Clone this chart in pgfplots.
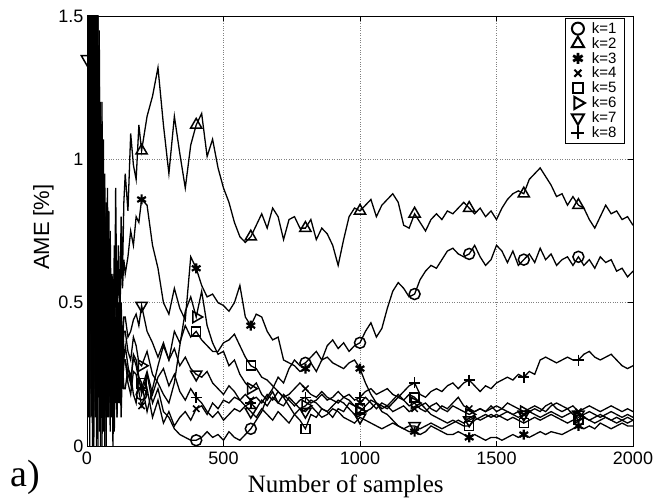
\documentclass[border=0pt]{standalone}
\usepackage{fontspec}
\setmainfont{Liberation Serif}
\setsansfont{Liberation Sans}
\usepackage{pgfplots}
\usepackage{pgfplotstable}
\pgfplotsset{compat=1.18}

\pgfplotstableread{
s k1 k2 k3 k4 k5 k6 k7 k8
0 3.0 2.6 2.0 2.2 1.8 2.9 1.35 2.0
5 0.4 2.8 0.2 2.2 0.6 2.5 0.1 1.9
10 2.2 0.1 1.8 0.4 2.6 0.0 2.3 0.2
15 0.1 2.0 0.7 1.8 0.2 2.1 0.5 2.4
20 1.9 0.5 2.4 0.0 1.6 0.3 1.7 0.1
25 0.6 1.7 0.1 1.6 0.0 1.9 0.2 2.0
30 1.7 0.2 1.5 0.3 1.8 0.1 1.6 0.5
35 0.2 1.6 0.3 1.9 0.7 1.4 0.0 1.7
40 1.6 0.0 1.2 0.2 1.3 0.4 1.5 0.3
45 0.05 1.3 0.6 1.25 0.2 1.1 0.4 1.45
50 1.1 0.3 1.2 0.1 1.15 0.2 0.9 0.0
55 0.3 1.2 0.1 1.0 0.0 1.05 0.2 0.85
60 1.07 0.1 0.8 0.35 0.7 0.05 0.9 0.3
65 0.1 0.95 0.5 0.8 0.3 0.85 0.0 0.75
70 0.8 0.3 0.6 0.0 0.85 0.35 0.7 0.1
75 0.2 0.9 0.2 0.6 0.1 0.6 0.3 0.65
80 0.6 0.15 0.82 0.3 0.45 0.1 0.7 0.2
85 0.05 0.75 0.3 0.55 0.2 0.5 0.15 0.6
90 0.55 0.3 0.5 0.1 0.6 0.25 0.4 0.15
95 0.3 0.6 0.1 0.45 0.0 0.55 0.5 0.5
100 0.7 0.25 0.45 0.05 0.35 0.3 0.25 0.2
105 0.15 0.9 0.6 0.4 0.25 0.45 0.35 0.45
110 0.45 0.4 0.3 0.1 0.5 0.15 0.6 0.1
115 0.2 0.7 0.5 0.35 0.15 0.5 0.3 0.35
120 0.5 0.45 0.4 0.15 0.35 0.2 0.45 0.15
125 0.25 0.8 0.7 0.3 0.1 0.45 0.5 0.3
130 0.4 0.6 0.55 0.2 0.3 0.3 0.35 0.2
135 0.3 0.85 0.65 0.3 0.2 0.4 0.45 0.3
140 0.35 0.95 0.60 0.30 0.20 0.40 0.45 0.30
150 0.28 0.82 0.66 0.22 0.27 0.33 0.38 0.25
160 0.22 1.09 0.75 0.18 0.25 0.30 0.40 0.22
170 0.32 0.98 0.70 0.26 0.18 0.38 0.44 0.31
180 0.30 0.93 0.80 0.25 0.15 0.35 0.46 0.28
190 0.24 1.12 0.78 0.19 0.24 0.29 0.42 0.23
200 0.18 1.03 0.86 0.14 0.22 0.28 0.49 0.20
220 0.25 1.15 0.84 0.20 0.12 0.33 0.40 0.26
240 0.15 1.22 0.70 0.10 0.20 0.25 0.36 0.18
260 0.20 1.32 0.62 0.16 0.28 0.22 0.31 0.24
280 0.12 1.12 0.50 0.08 0.35 0.18 0.36 0.27
300 0.10 0.95 0.46 0.12 0.30 0.15 0.30 0.21
320 0.06 1.15 0.55 0.07 0.40 0.22 0.34 0.25
340 0.04 1.02 0.48 0.10 0.36 0.35 0.28 0.19
360 0.03 0.90 0.44 0.12 0.42 0.47 0.31 0.16
380 0.02 1.05 0.66 0.09 0.38 0.52 0.27 0.20
400 0.02 1.12 0.62 0.13 0.40 0.45 0.25 0.17
420 0.03 1.16 0.56 0.14 0.37 0.54 0.24 0.15
440 0.05 1.01 0.52 0.11 0.35 0.42 0.26 0.12
460 0.03 1.07 0.53 0.15 0.33 0.36 0.22 0.10
480 0.04 0.97 0.50 0.13 0.33 0.32 0.20 0.12
500 0.02 0.90 0.49 0.16 0.36 0.33 0.18 0.09
520 0.05 0.85 0.47 0.15 0.37 0.28 0.21 0.11
540 0.03 0.78 0.50 0.17 0.39 0.30 0.19 0.13
560 0.02 0.73 0.56 0.16 0.35 0.25 0.16 0.12
580 0.04 0.71 0.45 0.18 0.31 0.22 0.14 0.14
600 0.06 0.73 0.42 0.16 0.28 0.20 0.12 0.15
620 0.09 0.77 0.46 0.17 0.27 0.22 0.10 0.13
640 0.12 0.81 0.45 0.15 0.24 0.18 0.13 0.16
660 0.17 0.76 0.40 0.18 0.23 0.16 0.11 0.14
680 0.20 0.83 0.37 0.16 0.21 0.19 0.09 0.17
700 0.24 0.80 0.38 0.19 0.19 0.15 0.12 0.15
720 0.22 0.72 0.30 0.17 0.17 0.14 0.10 0.18
740 0.27 0.79 0.29 0.18 0.14 0.17 0.08 0.16
760 0.30 0.80 0.28 0.20 0.11 0.15 0.11 0.14
780 0.28 0.76 0.26 0.22 0.09 0.13 0.13 0.16
800 0.29 0.76 0.27 0.20 0.06 0.14 0.12 0.17
820 0.31 0.79 0.29 0.18 0.11 0.16 0.14 0.15
840 0.33 0.72 0.26 0.17 0.10 0.15 0.12 0.16
860 0.30 0.76 0.30 0.19 0.13 0.13 0.10 0.18
880 0.35 0.74 0.31 0.17 0.12 0.12 0.11 0.16
900 0.37 0.70 0.29 0.16 0.10 0.14 0.13 0.17
920 0.34 0.63 0.28 0.15 0.13 0.16 0.12 0.19
940 0.36 0.72 0.27 0.17 0.12 0.15 0.10 0.17
960 0.33 0.80 0.29 0.16 0.15 0.13 0.09 0.18
980 0.35 0.83 0.30 0.14 0.14 0.11 0.08 0.16
1000 0.36 0.82 0.27 0.15 0.13 0.12 0.10 0.17
1020 0.40 0.84 0.22 0.17 0.12 0.14 0.09 0.19
1040 0.43 0.86 0.18 0.15 0.13 0.16 0.08 0.20
1060 0.38 0.80 0.15 0.13 0.15 0.15 0.07 0.18
1080 0.41 0.84 0.12 0.15 0.14 0.13 0.06 0.19
1100 0.48 0.86 0.11 0.14 0.13 0.14 0.07 0.20
1120 0.54 0.88 0.09 0.12 0.15 0.16 0.08 0.18
1140 0.57 0.85 0.07 0.13 0.17 0.18 0.07 0.17
1160 0.55 0.77 0.06 0.14 0.16 0.16 0.06 0.19
1180 0.52 0.76 0.05 0.12 0.18 0.14 0.07 0.21
1200 0.53 0.81 0.05 0.13 0.17 0.15 0.07 0.22
1220 0.58 0.78 0.04 0.14 0.15 0.13 0.06 0.18
1240 0.61 0.75 0.05 0.15 0.13 0.12 0.07 0.17
1260 0.63 0.79 0.07 0.13 0.11 0.14 0.08 0.19
1280 0.62 0.81 0.06 0.12 0.10 0.15 0.07 0.20
1300 0.65 0.79 0.05 0.14 0.09 0.13 0.06 0.19
1320 0.68 0.82 0.04 0.13 0.08 0.12 0.07 0.21
1340 0.69 0.81 0.04 0.15 0.09 0.14 0.08 0.22
1360 0.67 0.83 0.05 0.17 0.08 0.13 0.09 0.20
1380 0.66 0.85 0.04 0.14 0.07 0.12 0.08 0.22
1400 0.67 0.83 0.03 0.13 0.07 0.11 0.09 0.23
1420 0.70 0.81 0.04 0.12 0.09 0.12 0.10 0.21
1440 0.66 0.83 0.03 0.13 0.10 0.13 0.09 0.19
1460 0.63 0.80 0.02 0.12 0.11 0.12 0.10 0.21
1480 0.65 0.82 0.03 0.14 0.10 0.13 0.11 0.20
1500 0.70 0.79 0.03 0.12 0.11 0.14 0.10 0.22
1520 0.68 0.83 0.02 0.13 0.10 0.13 0.11 0.23
1540 0.64 0.86 0.03 0.12 0.09 0.15 0.12 0.24
1560 0.68 0.88 0.04 0.11 0.10 0.14 0.11 0.23
1580 0.63 0.89 0.03 0.12 0.09 0.13 0.10 0.25
1600 0.65 0.88 0.04 0.11 0.08 0.12 0.11 0.24
1620 0.67 0.93 0.03 0.12 0.09 0.13 0.12 0.26
1640 0.64 0.95 0.04 0.13 0.10 0.14 0.11 0.25
1660 0.69 0.97 0.05 0.12 0.09 0.13 0.10 0.30
1680 0.65 0.94 0.04 0.14 0.10 0.12 0.11 0.31
1700 0.67 0.91 0.05 0.15 0.11 0.14 0.12 0.30
1720 0.63 0.87 0.045 0.13 0.10 0.15 0.11 0.29
1740 0.65 0.88 0.04 0.12 0.09 0.14 0.10 0.30
1760 0.66 0.84 0.05 0.13 0.08 0.13 0.11 0.31
1780 0.63 0.87 0.06 0.14 0.09 0.11 0.12 0.30
1800 0.66 0.84 0.07 0.12 0.09 0.10 0.11 0.30
1820 0.63 0.83 0.06 0.13 0.10 0.11 0.10 0.32
1840 0.65 0.79 0.07 0.14 0.09 0.12 0.09 0.33
1860 0.62 0.76 0.06 0.13 0.08 0.11 0.10 0.31
1880 0.66 0.80 0.08 0.12 0.09 0.10 0.11 0.30
1900 0.64 0.84 0.07 0.13 0.10 0.11 0.10 0.31
1920 0.65 0.81 0.06 0.14 0.09 0.12 0.09 0.32
1940 0.61 0.82 0.07 0.13 0.08 0.11 0.10 0.30
1960 0.62 0.79 0.08 0.12 0.09 0.10 0.09 0.28
1980 0.59 0.80 0.07 0.13 0.10 0.11 0.08 0.27
2000 0.61 0.77 0.07 0.12 0.09 0.10 0.09 0.28
}\amedata

\pgfplotsset{
  aline/.style={black, line width=1.3pt, no marks, forget plot},
  amark/.style={black, only marks, forget plot,
    x filter/.expression={(mod(x,200)==0 && x<1999) ? x : nan}},
  lmark/.style={only marks, black},
}

\begin{document}
\begin{tikzpicture}
\begin{axis}[
  scale only axis, width=546pt, height=430pt,
  xmin=0, xmax=2000, ymin=0, ymax=1.5,
  xtick={0,500,1000,1500,2000}, xticklabels={0,500,1000,1500,2000},
  ytick={0,0.5,1,1.5}, yticklabels={0,0.5,1,1.5},
  tick align=inside, major tick length=5pt,
  grid=major, major grid style={dotted, black!50, line width=0.7pt},
  axis line style={line width=0.9pt},
  every tick/.style={black, line width=0.8pt},
  tick label style={font=\sffamily\fontsize{18}{18}\selectfont},
  /pgf/number format/assume math mode=true,
  xticklabel style={yshift=-2pt},
  xlabel={Number of samples}, ylabel={AME [\%]},
  xlabel style={font=\fontsize{25}{25}\selectfont, at={(axis description cs:0.474,-0.107)}, anchor=base},
  ylabel style={font=\sffamily\fontsize{22}{22}\selectfont, at={(axis description cs:-0.08,0.509)}, anchor=center},
  clip mode=individual,
  legend style={at={(axis description cs:0.985,0.995)}, anchor=north east, draw=black, line width=0.6pt, fill=white,
    font=\sffamily\fontsize{15}{15}\selectfont, row sep=-1.5pt, inner xsep=6pt, inner ysep=2pt,
    /tikz/every odd column/.append style={column sep=5pt}},
  legend cell align=left,
]
\addplot[aline] table[x=s,y=k1]{\amedata};
\addplot[aline] table[x=s,y=k2]{\amedata};
\addplot[aline] table[x=s,y=k3]{\amedata};
\addplot[aline] table[x=s,y=k4]{\amedata};
\addplot[aline] table[x=s,y=k5]{\amedata};
\addplot[aline] table[x=s,y=k6]{\amedata};
\addplot[aline] table[x=s,y=k7]{\amedata};
\addplot[aline] table[x=s,y=k8]{\amedata};

\addplot[amark, mark=o, mark size=5.5pt, mark options={solid, black, line width=1.5pt}] table[x=s,y=k1]{\amedata};
\addplot[amark, mark=triangle, mark size=6.5pt, mark options={solid, black, line width=1.5pt}] table[x=s,y=k2]{\amedata};
\addplot[amark, mark=asterisk, mark size=5pt, mark options={solid, black, line width=2.2pt}] table[x=s,y=k3]{\amedata};
\addplot[amark, mark=x, mark size=4.5pt, mark options={solid, black, line width=1.5pt}] table[x=s,y=k4]{\amedata};
\addplot[amark, mark=square, mark size=4.5pt, mark options={solid, black, line width=1.5pt}] table[x=s,y=k5]{\amedata};
\addplot[amark, mark=triangle, mark size=6.5pt, mark options={solid, black, line width=1.5pt, rotate=-90}] table[x=s,y=k6]{\amedata};
\addplot[amark, mark=triangle, mark size=6.5pt, mark options={solid, black, line width=1.5pt, rotate=180}] table[x=s,y=k7]{\amedata};
\addplot[amark, mark=+, mark size=5.5pt, mark options={solid, black, line width=1.5pt}] table[x=s,y=k8]{\amedata};

\addlegendimage{lmark, mark=o, mark size=6pt, mark options={solid, black, line width=2pt}}
\addlegendentry{k=1}
\addlegendimage{lmark, mark=triangle, mark size=7pt, mark options={solid, black, line width=2pt}}
\addlegendentry{k=2}
\addlegendimage{lmark, mark=asterisk, mark size=5.5pt, mark options={solid, black, line width=2.8pt}}
\addlegendentry{k=3}
\addlegendimage{lmark, mark=x, mark size=5pt, mark options={solid, black, line width=2pt}}
\addlegendentry{k=4}
\addlegendimage{lmark, mark=square, mark size=5pt, mark options={solid, black, line width=2pt}}
\addlegendentry{k=5}
\addlegendimage{lmark, mark=triangle, mark size=7pt, mark options={solid, black, line width=2pt, rotate=-90}}
\addlegendentry{k=6}
\addlegendimage{lmark, mark=triangle, mark size=7pt, mark options={solid, black, line width=2pt, rotate=180}}
\addlegendentry{k=7}
\addlegendimage{lmark, mark=+, mark size=6.5pt, mark options={solid, black, line width=2pt}}
\addlegendentry{k=8}

\node[anchor=base west, font=\fontsize{38}{38}\selectfont, inner sep=0pt] at (axis description cs:-0.141,-0.0953) {a)};
\coordinate (BL) at (axis description cs:-0.15934,-0.12326);
\coordinate (TR) at (axis description cs:1.04396,1.03721);
\end{axis}
\pgfresetboundingbox
\path (BL) rectangle (TR);
\end{tikzpicture}
\end{document}
